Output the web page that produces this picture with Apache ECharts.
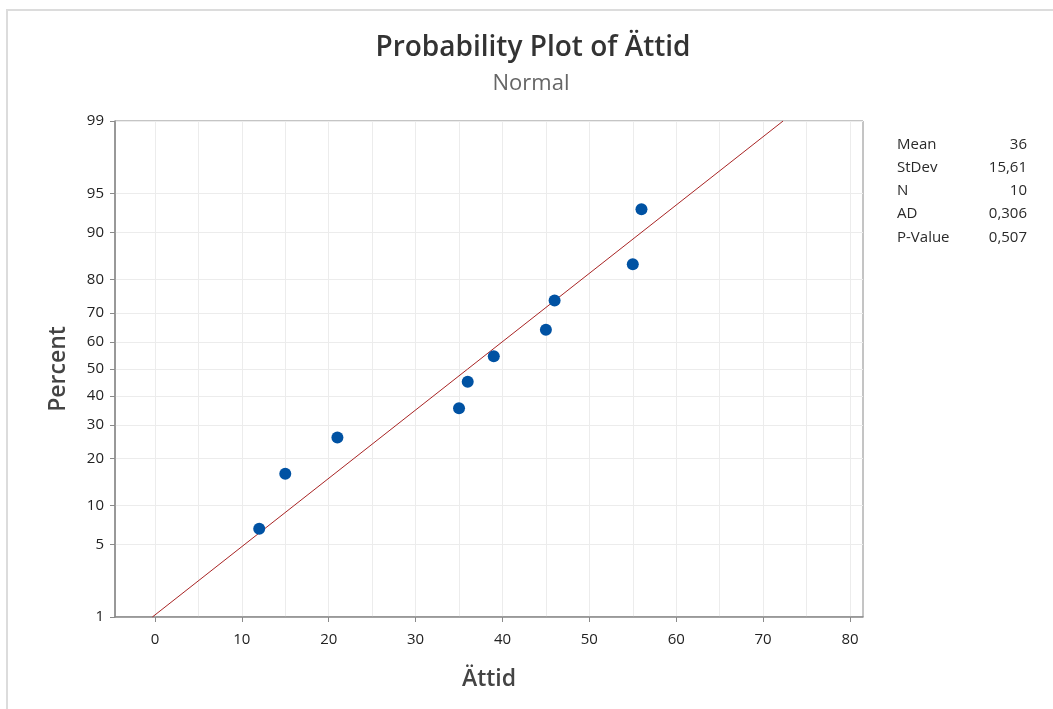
<!DOCTYPE html>
<html>
<head>
<meta charset="utf-8">
<script src="https://cdn.jsdelivr.net/npm/echarts@6/dist/echarts.min.js"></script>
<style>
html,body{margin:0;padding:0;background:#fff;}
#c{width:1053px;height:709px;}
</style>
</head>
<body>
<div id="c"></div>
<script>
// ---- data ----
const attid = [12, 15, 21, 35, 36, 39, 45, 46, 55, 56];
const percent = [6.7, 16.3, 26.0, 35.6, 45.2, 54.8, 64.4, 74.0, 83.7, 93.3];
const fitX = [-0.3, 72.3];
const fitPercent = [1, 99];
const yTickPercents = [1, 5, 10, 20, 30, 40, 50, 60, 70, 80, 90, 95, 99];
const xTickValues = [0, 10, 20, 30, 40, 50, 60, 70, 80];
const xGridValues = [0, 5, 10, 15, 20, 25, 30, 35, 40, 45, 50, 55, 60, 65, 70, 75, 80];
const statLabels = ['Mean', 'StDev', 'N', 'AD', 'P-Value'];
const statValues = ['36', '15,61', '10', '0,306', '0,507'];

// inverse standard normal CDF (probability scale)
function probit(p) {
  const a = [-3.969683028665376e+01, 2.209460984245205e+02, -2.759285104469687e+02, 1.383577518672690e+02, -3.066479806614716e+01, 2.506628277459239e+00];
  const b = [-5.447609879822406e+01, 1.615858368580409e+02, -1.556989798598866e+02, 6.680131188771972e+01, -1.328068155288572e+01];
  const c = [-7.784894002430293e-03, -3.223964580411365e-01, -2.400758277161838e+00, -2.549732539343734e+00, 4.374664141464968e+00, 2.938163982698783e+00];
  const d = [7.784695709041462e-03, 3.224671290700398e-01, 2.445134137142996e+00, 3.754408661907416e+00];
  const pl = 0.02425, ph = 1 - pl;
  let q, r;
  if (p < pl) {
    q = Math.sqrt(-2 * Math.log(p));
    return (((((c[0]*q+c[1])*q+c[2])*q+c[3])*q+c[4])*q+c[5]) / ((((d[0]*q+d[1])*q+d[2])*q+d[3])*q+1);
  } else if (p <= ph) {
    q = p - 0.5; r = q * q;
    return (((((a[0]*r+a[1])*r+a[2])*r+a[3])*r+a[4])*r+a[5])*q / (((((b[0]*r+b[1])*r+b[2])*r+b[3])*r+b[4])*r+1);
  } else {
    q = Math.sqrt(-2 * Math.log(1 - p));
    return -(((((c[0]*q+c[1])*q+c[2])*q+c[3])*q+c[4])*q+c[5]) / ((((d[0]*q+d[1])*q+d[2])*q+d[3])*q+1);
  }
}
const z = pc => probit(pc / 100);
const yTickZ = yTickPercents.map(z);
const zToLabel = {};
yTickPercents.forEach((p, i) => { zToLabel[yTickZ[i].toFixed(6)] = String(p); });

const FONT = '"Open Sans", "Noto Sans", sans-serif';
const GRID = {left: 115, right: 190, top: 121, bottom: 92};

const chart = echarts.init(document.getElementById('c'), null, {renderer: 'canvas'});

const statGraphics = [];
statLabels.forEach((s, i) => {
  const y = 143 + i * 23.2;
  statGraphics.push({type: 'text', left: 897, top: y - 6, style: {text: s, font: '15px ' + FONT, fill: '#2a2a2a'}});
  statGraphics.push({type: 'text', right: 1053 - 1027, top: y - 6, style: {text: statValues[i], font: '15px ' + FONT, fill: '#2a2a2a', textAlign: 'right'}});
});

chart.setOption({
  animation: false,
  backgroundColor: '#fff',
  title: [
    {text: 'Probability Plot of Ättid', left: 528, textAlign: 'center', top: 29,
     textStyle: {fontFamily: FONT, fontSize: 28, fontWeight: 600, color: '#333'}},
    {text: 'Normal', left: 526, textAlign: 'center', top: 68,
     textStyle: {fontFamily: FONT, fontSize: 22, fontWeight: 'normal', color: '#666'}}
  ],
  graphic: [
    {type: 'line', shape: {x1: 6, y1: 10, x2: 1053, y2: 10}, style: {stroke: '#dcdcdc', lineWidth: 2}},
    {type: 'line', shape: {x1: 7, y1: 10, x2: 7, y2: 709}, style: {stroke: '#dcdcdc', lineWidth: 2}}
  ].concat(statGraphics),
  grid: Object.assign({show: true, borderColor: '#8a8a8a', borderWidth: 1, backgroundColor: 'transparent'}, GRID),
  xAxis: [
    {
      type: 'value', min: -4.6, max: 81.5,
      name: 'Ättid', nameLocation: 'middle', nameGap: 51,
      nameTextStyle: {fontFamily: FONT, fontSize: 23, fontWeight: 600, color: '#444'},
      axisLine: {show: true, onZero: false, lineStyle: {color: '#8a8a8a', width: 1.5}},
      axisTick: {show: true, length: 5, customValues: xTickValues, lineStyle: {color: '#8a8a8a'}},
      axisLabel: {customValues: xTickValues, margin: 15, fontFamily: FONT, fontSize: 15, color: '#222'},
      splitLine: {show: false}
    },
    {
      type: 'value', min: -4.6, max: 81.5, position: 'bottom',
      axisLine: {show: false}, axisLabel: {show: false},
      axisTick: {show: false, customValues: xGridValues},
      splitLine: {show: true, lineStyle: {color: '#ececec', width: 1}}
    }
  ],
  yAxis: {
    type: 'value', min: z(1), max: z(99),
    name: 'Percent', nameLocation: 'middle', nameGap: 45,
    nameTextStyle: {fontFamily: FONT, fontSize: 23, fontWeight: 600, color: '#444'},
    axisLine: {show: true, onZero: false, lineStyle: {color: '#8a8a8a', width: 1.5}},
    axisTick: {show: true, length: 5, customValues: yTickZ, lineStyle: {color: '#8a8a8a'}},
    axisLabel: {customValues: yTickZ, margin: 11, fontFamily: FONT, fontSize: 15, color: '#222',
      formatter: v => zToLabel[v.toFixed(6)] || ''},
    splitLine: {show: true, lineStyle: {color: '#ececec', width: 1}}
  },
  series: [
    {
      type: 'line', xAxisIndex: 0, data: fitX.map((x, i) => [x, z(fitPercent[i])]),
      symbol: 'none', lineStyle: {color: '#a82424', width: 1}, silent: true, z: 2
    },
    {
      type: 'scatter', xAxisIndex: 0, data: attid.map((x, i) => [x, z(percent[i])]),
      symbol: 'circle', symbolSize: 12, itemStyle: {color: '#0052a3', opacity: 1}, z: 3
    }
  ]
});
</script>
</body>
</html>
